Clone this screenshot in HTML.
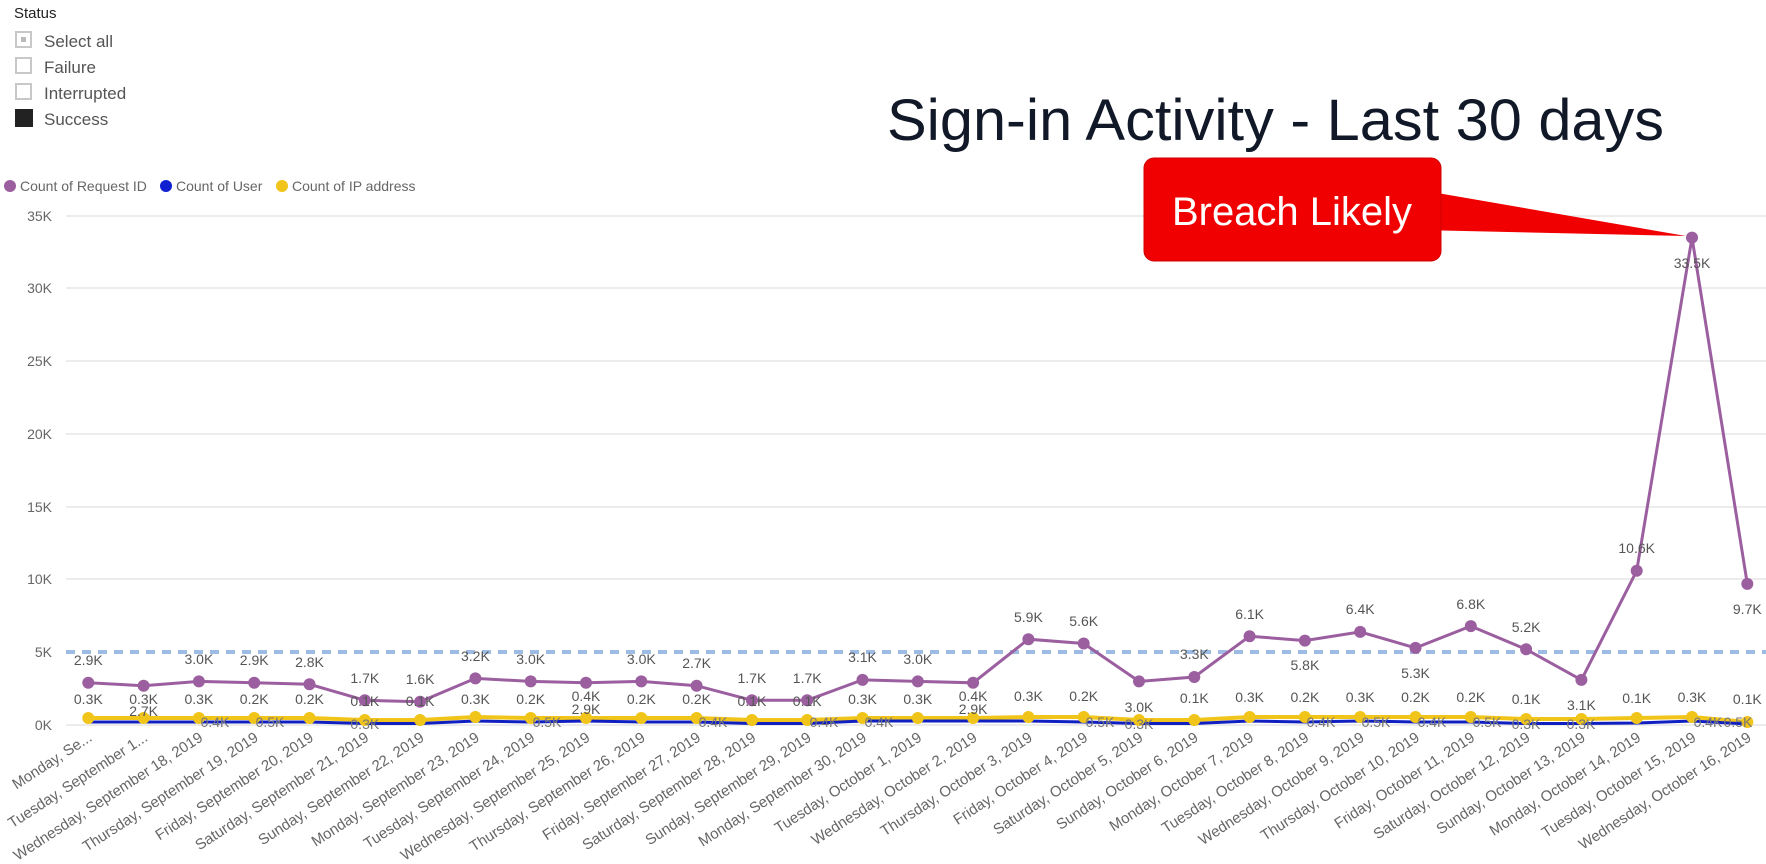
<!DOCTYPE html>
<html><head><meta charset="utf-8"><style>
html,body{margin:0;padding:0;background:#fff;width:1766px;height:864px;overflow:hidden}
svg{display:block;font-family:"Liberation Sans",sans-serif}
</style></head><body>
<svg width="1766" height="864" viewBox="0 0 1766 864" xmlns="http://www.w3.org/2000/svg">
<!-- slicer -->
<text x="14" y="18" font-size="15" fill="#222">Status</text>
<rect x="16" y="32" width="15" height="15" fill="none" stroke="#c8c8c8" stroke-width="2"/><rect x="21" y="37" width="5" height="5" fill="#bbb"/>
<text x="44" y="47" font-size="17" fill="#555">Select all</text>
<rect x="16" y="58" width="15" height="15" fill="none" stroke="#c8c8c8" stroke-width="2"/>
<text x="44" y="73" font-size="17" fill="#555">Failure</text>
<rect x="16" y="84" width="15" height="15" fill="none" stroke="#c8c8c8" stroke-width="2"/>
<text x="44" y="99" font-size="17" fill="#555">Interrupted</text>
<rect x="15" y="109" width="18" height="18" fill="#222"/>
<text x="44" y="125" font-size="17" fill="#555">Success</text>
<!-- title -->
<text x="887" y="140" font-size="58" fill="#111827" textLength="777" lengthAdjust="spacingAndGlyphs">Sign-in Activity - Last 30 days</text>
<!-- legend -->
<circle cx="10" cy="186" r="6" fill="#9b5fa0"/><text x="20" y="191" font-size="14" fill="#666">Count of Request ID</text>
<circle cx="166" cy="186" r="6" fill="#1020d0"/><text x="176" y="191" font-size="14" fill="#666">Count of User</text>
<circle cx="282" cy="186" r="6" fill="#f0c419"/><text x="292" y="191" font-size="14" fill="#666">Count of IP address</text>
<!-- grid -->
<g stroke="#e6e6e6" stroke-width="1.5">
<line x1="66" y1="216" x2="1766" y2="216"/><line x1="66" y1="288" x2="1766" y2="288"/><line x1="66" y1="361" x2="1766" y2="361"/><line x1="66" y1="434" x2="1766" y2="434"/><line x1="66" y1="507" x2="1766" y2="507"/><line x1="66" y1="579" x2="1766" y2="579"/><line x1="66" y1="725" x2="1766" y2="725"/>
</g>
<g font-size="14" fill="#666" text-anchor="end">
<text x="52" y="221">35K</text><text x="52" y="293">30K</text><text x="52" y="366">25K</text><text x="52" y="439">20K</text><text x="52" y="512">15K</text><text x="52" y="584">10K</text><text x="52" y="657">5K</text><text x="52" y="730">0K</text>
</g>
<line x1="66" y1="652" x2="1766" y2="652" stroke="#9dbbe3" stroke-width="4" stroke-dasharray="9,7"/>
<!-- yellow -->
<polyline fill="none" stroke="#f0c419" stroke-width="4" points="88.3,718 143.6,718 198.9,718 254.2,718 309.5,718 364.8,720 420.1,720 475.4,717 530.7,718 586,718 641.3,718 696.6,718 751.9,720 807.2,720 862.5,718 917.8,718 973.1,718 1028.4,717 1083.7,717 1139,720 1194.3,720 1249.6,717 1304.9,717 1360.2,717 1415.5,717 1470.8,717 1526.1,719 1581.4,719 1636.7,718 1692,717 1747.3,722"/>
<!-- blue -->
<polyline fill="none" stroke="#1020c0" stroke-width="3" points="88.3,722 143.6,722 198.9,722 254.2,722 309.5,722 364.8,723.5 420.1,723.5 475.4,721 530.7,722 586,721 641.3,722 696.6,722 751.9,723.5 807.2,723.5 862.5,721 917.8,721 973.1,721 1028.4,721 1083.7,722 1139,723.5 1194.3,723.5 1249.6,721 1304.9,722 1360.2,721 1415.5,722 1470.8,722 1526.1,723.5 1581.4,723.5 1636.7,723 1692,721 1747.3,724"/>
<g fill="#f0c419">
<circle cx="88.3" cy="718" r="6"/><circle cx="143.6" cy="718" r="6"/><circle cx="198.9" cy="718" r="6"/><circle cx="254.2" cy="718" r="6"/><circle cx="309.5" cy="718" r="6"/><circle cx="364.8" cy="720" r="6"/><circle cx="420.1" cy="720" r="6"/><circle cx="475.4" cy="717" r="6"/><circle cx="530.7" cy="718" r="6"/><circle cx="586" cy="718" r="6"/><circle cx="641.3" cy="718" r="6"/><circle cx="696.6" cy="718" r="6"/><circle cx="751.9" cy="720" r="6"/><circle cx="807.2" cy="720" r="6"/><circle cx="862.5" cy="718" r="6"/><circle cx="917.8" cy="718" r="6"/><circle cx="973.1" cy="718" r="6"/><circle cx="1028.4" cy="717" r="6"/><circle cx="1083.7" cy="717" r="6"/><circle cx="1139" cy="720" r="6"/><circle cx="1194.3" cy="720" r="6"/><circle cx="1249.6" cy="717" r="6"/><circle cx="1304.9" cy="717" r="6"/><circle cx="1360.2" cy="717" r="6"/><circle cx="1415.5" cy="717" r="6"/><circle cx="1470.8" cy="717" r="6"/><circle cx="1526.1" cy="719" r="6"/><circle cx="1581.4" cy="719" r="6"/><circle cx="1636.7" cy="718" r="6"/><circle cx="1692" cy="717" r="6"/><circle cx="1747.3" cy="722" r="6"/>
</g>
<!-- purple -->
<polyline fill="none" stroke="#9b5fa0" stroke-width="3" points="88.3,682.8 143.6,685.7 198.9,681.4 254.2,682.8 309.5,684.3 364.8,700.3 420.1,701.7 475.4,678.4 530.7,681.4 586,682.8 641.3,681.4 696.6,685.7 751.9,700.3 807.2,700.3 862.5,679.9 917.8,681.4 973.1,682.8 1028.4,639.2 1083.7,643.5 1139,681.4 1194.3,677 1249.6,636.2 1304.9,640.6 1360.2,631.9 1415.5,647.9 1470.8,626.1 1526.1,649.3 1581.4,679.9 1636.7,570.8 1692,237.6 1747.3,583.9"/>
<g fill="#9b5fa0">
<circle cx="88.3" cy="682.8" r="6"/><circle cx="143.6" cy="685.7" r="6"/><circle cx="198.9" cy="681.4" r="6"/><circle cx="254.2" cy="682.8" r="6"/><circle cx="309.5" cy="684.3" r="6"/><circle cx="364.8" cy="700.3" r="6"/><circle cx="420.1" cy="701.7" r="6"/><circle cx="475.4" cy="678.4" r="6"/><circle cx="530.7" cy="681.4" r="6"/><circle cx="586" cy="682.8" r="6"/><circle cx="641.3" cy="681.4" r="6"/><circle cx="696.6" cy="685.7" r="6"/><circle cx="751.9" cy="700.3" r="6"/><circle cx="807.2" cy="700.3" r="6"/><circle cx="862.5" cy="679.9" r="6"/><circle cx="917.8" cy="681.4" r="6"/><circle cx="973.1" cy="682.8" r="6"/><circle cx="1028.4" cy="639.2" r="6"/><circle cx="1083.7" cy="643.5" r="6"/><circle cx="1139" cy="681.4" r="6"/><circle cx="1194.3" cy="677" r="6"/><circle cx="1249.6" cy="636.2" r="6"/><circle cx="1304.9" cy="640.6" r="6"/><circle cx="1360.2" cy="631.9" r="6"/><circle cx="1415.5" cy="647.9" r="6"/><circle cx="1470.8" cy="626.1" r="6"/><circle cx="1526.1" cy="649.3" r="6"/><circle cx="1581.4" cy="679.9" r="6"/><circle cx="1636.7" cy="570.8" r="6"/><circle cx="1692" cy="237.6" r="6"/><circle cx="1747.3" cy="583.9" r="6"/>
</g>
<!-- purple labels -->
<g font-size="14" fill="#555" text-anchor="middle">
<text x="88.3" y="665">2.9K</text><text x="143.6" y="716">2.7K</text><text x="198.9" y="664">3.0K</text><text x="254.2" y="665">2.9K</text><text x="309.5" y="667">2.8K</text><text x="364.8" y="683">1.7K</text><text x="420.1" y="684">1.6K</text><text x="475.4" y="661">3.2K</text><text x="530.7" y="664">3.0K</text><text x="586" y="714">2.9K</text><text x="641.3" y="664">3.0K</text><text x="696.6" y="668">2.7K</text><text x="751.9" y="683">1.7K</text><text x="807.2" y="683">1.7K</text><text x="862.5" y="662">3.1K</text><text x="917.8" y="664">3.0K</text><text x="973.1" y="714">2.9K</text><text x="1028.4" y="622">5.9K</text><text x="1083.7" y="626">5.6K</text><text x="1139" y="712">3.0K</text><text x="1194.3" y="659">3.3K</text><text x="1249.6" y="619">6.1K</text><text x="1304.9" y="670">5.8K</text><text x="1360.2" y="614">6.4K</text><text x="1415.5" y="678">5.3K</text><text x="1470.8" y="609">6.8K</text><text x="1526.1" y="632">5.2K</text><text x="1581.4" y="710">3.1K</text><text x="1636.7" y="553">10.6K</text><text x="1692" y="268">33.5K</text><text x="1747.3" y="614">9.7K</text>
</g>
<!-- user labels -->
<g font-size="14" fill="#555" text-anchor="middle">
<text x="88.3" y="704">0.3K</text><text x="143.6" y="704">0.3K</text><text x="198.9" y="704">0.3K</text><text x="254.2" y="704">0.2K</text><text x="309.5" y="704">0.2K</text><text x="364.8" y="706">0.1K</text><text x="420.1" y="706">0.1K</text><text x="475.4" y="704">0.3K</text><text x="530.7" y="704">0.2K</text><text x="586" y="701">0.4K</text><text x="641.3" y="704">0.2K</text><text x="696.6" y="704">0.2K</text><text x="751.9" y="706">0.1K</text><text x="807.2" y="706">0.1K</text><text x="862.5" y="704">0.3K</text><text x="917.8" y="704">0.3K</text><text x="973.1" y="701">0.4K</text><text x="1028.4" y="701">0.3K</text><text x="1083.7" y="701">0.2K</text><text x="1194.3" y="703">0.1K</text><text x="1249.6" y="702">0.3K</text><text x="1304.9" y="702">0.2K</text><text x="1360.2" y="702">0.3K</text><text x="1415.5" y="702">0.2K</text><text x="1470.8" y="702">0.2K</text><text x="1526.1" y="704">0.1K</text><text x="1636.7" y="703">0.1K</text><text x="1692" y="702">0.3K</text><text x="1747.3" y="704">0.1K</text>
</g>
<!-- IP labels -->
<g font-size="14" fill="#777" text-anchor="middle">
<text x="215" y="727">0.4K</text><text x="270" y="727">0.5K</text><text x="364.8" y="729">0.3K</text><text x="547" y="727">0.5K</text><text x="713" y="727">0.4K</text><text x="824" y="727">0.4K</text><text x="879" y="727">0.4K</text><text x="1100" y="727">0.5K</text><text x="1139" y="729">0.3K</text><text x="1321" y="727">0.4K</text><text x="1376" y="727">0.5K</text><text x="1432" y="727">0.4K</text><text x="1487" y="727">0.5K</text><text x="1526" y="729">0.3K</text><text x="1581" y="729">0.3K</text><text x="1708" y="727">0.4K</text><text x="1738" y="727">0.5K</text>
</g>
<!-- x labels -->
<g font-size="15" fill="#666" text-anchor="end">
<text transform="translate(93,740) rotate(-33)">Monday, Se...</text>
<text transform="translate(148.6,740) rotate(-33)">Tuesday, September 1...</text>
<text transform="translate(203.9,740) rotate(-33)">Wednesday, September 18, 2019</text>
<text transform="translate(259.2,740) rotate(-33)">Thursday, September 19, 2019</text>
<text transform="translate(314.5,740) rotate(-33)">Friday, September 20, 2019</text>
<text transform="translate(369.8,740) rotate(-33)">Saturday, September 21, 2019</text>
<text transform="translate(425.1,740) rotate(-33)">Sunday, September 22, 2019</text>
<text transform="translate(480.4,740) rotate(-33)">Monday, September 23, 2019</text>
<text transform="translate(535.7,740) rotate(-33)">Tuesday, September 24, 2019</text>
<text transform="translate(591,740) rotate(-33)">Wednesday, September 25, 2019</text>
<text transform="translate(646.3,740) rotate(-33)">Thursday, September 26, 2019</text>
<text transform="translate(701.6,740) rotate(-33)">Friday, September 27, 2019</text>
<text transform="translate(756.9,740) rotate(-33)">Saturday, September 28, 2019</text>
<text transform="translate(812.2,740) rotate(-33)">Sunday, September 29, 2019</text>
<text transform="translate(867.5,740) rotate(-33)">Monday, September 30, 2019</text>
<text transform="translate(922.8,740) rotate(-33)">Tuesday, October 1, 2019</text>
<text transform="translate(978.1,740) rotate(-33)">Wednesday, October 2, 2019</text>
<text transform="translate(1033.4,740) rotate(-33)">Thursday, October 3, 2019</text>
<text transform="translate(1088.7,740) rotate(-33)">Friday, October 4, 2019</text>
<text transform="translate(1144,740) rotate(-33)">Saturday, October 5, 2019</text>
<text transform="translate(1199.3,740) rotate(-33)">Sunday, October 6, 2019</text>
<text transform="translate(1254.6,740) rotate(-33)">Monday, October 7, 2019</text>
<text transform="translate(1309.9,740) rotate(-33)">Tuesday, October 8, 2019</text>
<text transform="translate(1365.2,740) rotate(-33)">Wednesday, October 9, 2019</text>
<text transform="translate(1420.5,740) rotate(-33)">Thursday, October 10, 2019</text>
<text transform="translate(1475.8,740) rotate(-33)">Friday, October 11, 2019</text>
<text transform="translate(1531.1,740) rotate(-33)">Saturday, October 12, 2019</text>
<text transform="translate(1586.4,740) rotate(-33)">Sunday, October 13, 2019</text>
<text transform="translate(1641.7,740) rotate(-33)">Monday, October 14, 2019</text>
<text transform="translate(1697,740) rotate(-33)">Tuesday, October 15, 2019</text>
<text transform="translate(1752.3,740) rotate(-33)">Wednesday, October 16, 2019</text>
</g>
<!-- callout -->
<polygon points="1420,190 1686,236 1420,230" fill="#f00000"/>
<rect x="1144" y="158" width="297" height="103" rx="10" fill="#f00000" stroke="#d00000" stroke-width="1"/>
<text x="1292" y="225" font-size="40" fill="#fff" text-anchor="middle">Breach Likely</text>
</svg>
</body></html>
